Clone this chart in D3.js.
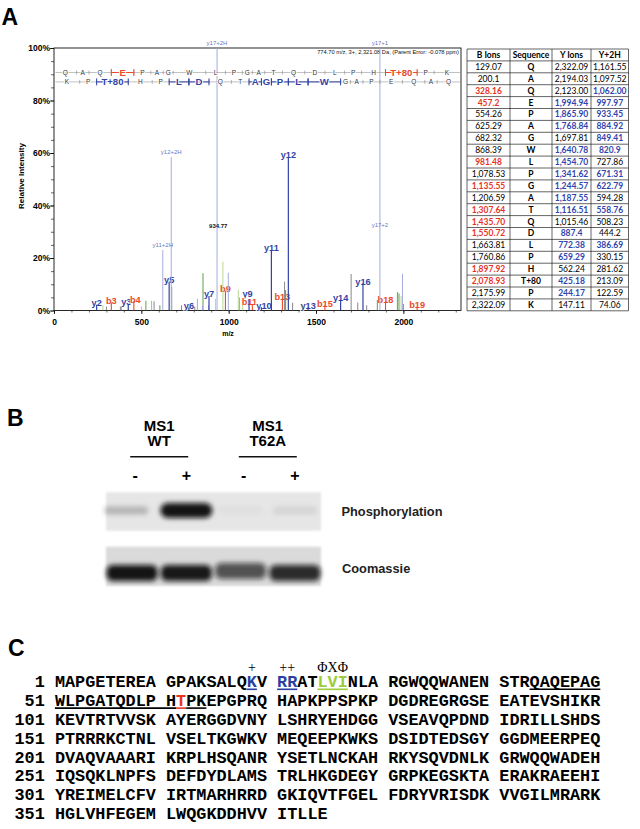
<!DOCTYPE html>
<html><head><meta charset="utf-8">
<script src="https://cdn.jsdelivr.net/npm/d3@7"></script>
<style>body{margin:0;background:#fff}</style>
</head><body>
<svg id="fig" width="640" height="829" xmlns="http://www.w3.org/2000/svg"></svg>
<script>
// ---------------- DATA ----------------
// Panel A: peptide & fragment table
const sequence = ["Q","A","Q","E","P","A","G","W","L","P","G","A","T","Q","D","L","P","H","T+80","P","K"];
const bIonText = ["129.07","200.1","328.16","457.2","554.26","625.29","682.32","868.39","981.48","1,078.53","1,135.55","1,206.59","1,307.64","1,435.70","1,550.72","1,663.81","1,760.86","1,897.92","2,078.93","2,175.99","2,322.09"];
const yIonText = ["2,322.09","2,194.03","2,123.00","1,994.94","1,865.90","1,768.84","1,697.81","1,640.78","1,454.70","1,341.62","1,244.57","1,187.55","1,116.51","1,015.46","887.4","772.38","659.29","562.24","425.18","244.17","147.11"];
const y2HText = ["1,161.55","1,097.52","1,062.00","997.97","933.45","884.92","849.41","820.9","727.86","671.31","622.79","594.28","558.76","508.23","444.2","386.69","330.15","281.62","213.09","122.59","74.06"];
const bHit   = [0,0,1,1,0,0,0,0,1,0,1,0,1,1,1,0,0,1,1,0,0];
const yHit   = [0,0,0,1,1,1,0,1,1,1,1,1,1,0,1,1,1,0,1,1,0];
const y2HHit = [0,0,1,1,1,1,1,1,0,1,1,0,1,0,0,1,0,0,0,0,0];
const tableHeaders = ["B Ions","Sequence","Y Ions","Y+2H"];
// highlighted residues in the annotation rows (b-row index, y-row index in reversed order)
const bRowHits = [3, 18];
const yRowHits = [2, 5, 6, 9, 10, 11, 12, 13];

// Panel A: spectrum peaks (m/z, relative intensity %)
const yPeakLabels = ["y2","y3","y5","y6","y7","y9","y10","y11","y12","y13","y14","y16"];
const yPeakMz     = [244.17,425.18,659.29,772.38,887.4,1116.51,1187.55,1244.57,1341.62,1454.70,1640.78,1768.84];
const yPeakInt    = [2.2,2.5,11,1.2,5.5,4.2,1.2,23,58.5,1.2,4,10.4];
const bPeakLabels = ["b3","b4","b9","b11","b13","b15","b18","b19"];
const bPeakMz     = [328.16,457.2,981.48,1135.55,1307.64,1550.72,1897.92,2078.93];
const bPeakInt    = [3,3.5,7.5,2.5,4.5,2,3.5,1.5];
const lightMz     = [386.69,558.76,622.79,671.31,820.9,849.41,884.92,933.45,997.97,1062.00,1865.90,1994.94];
const lightInt    = [1.5,3.7,23,58.4,4.5,2,2,100,14.4,5,100,14];
const lightLabel  = ["","","y11+2H","y12+2H","","","","y17+2H","","","y17+1",""];
const darkGreenMz  = [526,606,853,1326,1851,1975];
const darkGreenInt = [3.7,2,14.2,7.8,4,6.5];
const lightGreenMz  = [280,501,925,967,1055,1080,1987];
const lightGreenInt = [2,1.5,4.4,18.6,8,2,5.5];
const grayMz  = [300,380,573,674,730,806,1320,1366,1423,1701,1739,1790,1966,2000];
const grayInt = [1.5,1.5,3.5,9,2,1.5,11,3,2,13.9,3,2,7,2.5];
const midLabels = ["934.77","y17+2"];
const midLabelMz = [934.77,1865.90];
const midLabelInt = [32.2,32.5];
const yTicks = [0,20,40,60,80,100];
const xTicks = [0,500,1000,1500,2000];
const headerInfo = "774.70 m/z, 3+, 2,321.08 Da,  (Parent Error: -0.078 ppm)";

// Panel B: western blot
const lanes = ["WT -","WT +","T62A -","T62A +"];
const laneSigns = ["-","+","-","+"];
const groups = [["MS1","WT"],["MS1","T62A"]];
const phosphoLevel = [0.22,0.97,0.03,0.08];
const coomassieLevel = [0.97,0.95,0.68,0.86];

// Panel C: protein sequence
const proteinLines = [
 "MAPGETEREAGPAKSALQKVRRATLVINLARGWQQWANENSTRQAQEPAG",
 "WLPGATQDLPHTPKEPGPRQHAPKPPSPKPDGDREGRGSEEATEVSHIKR",
 "KEVTRTVVSKAYERGGDVNYLSHRYEHDGGVSEAVQPDNDIDRILLSHDS",
 "PTRRRKCTNLVSELTKGWKVMEQEEPKWKSDSIDTEDSGYGGDMEERPEQ",
 "DVAQVAAARIKRPLHSQANRYSETLNCKAHRKYSQVDNLKGRWQQWADEH",
 "IQSQKLNPFSDEFDYDLAMSTRLHKGDEGYGRPKEGSKTAERAKRAEEHI",
 "YREIMELCFVIRTMARHRRDGKIQVTFGELFDRYVRISDKVVGILMRARK",
 "HGLVHFEGEMLWQGKDDHVVITLLE"];
const residueColors = {19:"blue",21:"blue",22:"blue",25:"green",26:"green",27:"green",62:"red"};
const underlines = [[19,19,"blue"],[21,22,"blue"],[25,27,"green"],[44,50,"black"],[51,61,"black"],[62,62,"red"],[63,64,"black"]];
const motifMarks = [["+",19,19],["++",21,22],["\u03A6X\u03A6",25,27]];

// ---------------- DRAWING ----------------
const svg = d3.select("#fig");
const SANS = "'Liberation Sans', Arial, Helvetica, sans-serif";
const MONO = "'Liberation Mono', 'Courier New', monospace";
const SERIF = "'Liberation Serif', 'Times New Roman', serif";
const C = {y:"#3243a6", b:"#ea4a2a", light:"#a3addf", lightTxt:"#6a78c6", green:"#5f9f45", lgreen:"#b8d88f", gray:"#7a7a7a",
  red:"#e8331f", blue:"#2f45ad", seqBlue:"#2b3fa0", seqGreen:"#9dcb3a", seqRed:"#e8331f"};
const num = s => +s.replace(/,/g,"");

// panel letters
[["A",1.5,25],["B",7,426],["C",8,655.5]].forEach(([t,px,py])=>{
  svg.append("text").attr("x",px).attr("y",py).text(t)
    .attr("font-family",SANS).attr("font-weight","bold").attr("font-size",23);
});

// ---- spectrum ----
const x = d3.scaleLinear().domain([0,2330]).range([54,461]);
const y = d3.scaleLinear().domain([0,100]).range([310.5,48]);
const sp = svg.append("g");
svg.append("defs").append("clipPath").attr("id","plotclip").append("rect")
  .attr("x",54).attr("y",48).attr("width",407).attr("height",262.5);

// axes
const yMinor = d3.axisLeft(y).tickValues(d3.range(0,101,5)).tickSize(3).tickFormat("");
sp.append("g").attr("transform","translate(54,0)").call(yMinor)
  .call(g=>g.select(".domain").remove()).call(g=>g.selectAll("line").attr("stroke","#000").attr("stroke-width",0.6));
const yMajor = d3.axisLeft(y).tickValues(yTicks).tickSize(4).tickPadding(0).tickFormat(d=>d+"%");
sp.append("g").attr("transform","translate(54,0)").call(yMajor)
  .call(g=>g.select(".domain").remove())
  .call(g=>g.selectAll("line").attr("stroke","#000").attr("stroke-width",0.8))
  .call(g=>g.selectAll("text").attr("font-family",SANS).attr("font-weight","bold").attr("font-size",8.5).attr("fill","#000"));
const xMinor = d3.axisBottom(x).tickValues(d3.range(0,2301,100)).tickSize(2).tickFormat("");
sp.append("g").attr("transform","translate(0,310.5)").call(xMinor)
  .call(g=>g.select(".domain").remove()).call(g=>g.selectAll("line").attr("stroke","#000").attr("stroke-width",0.6));
const xMajor = d3.axisBottom(x).tickValues(xTicks).tickSize(3.5).tickPadding(4.5).tickFormat(d3.format("d"));
sp.append("g").attr("transform","translate(0,310.5)").call(xMajor)
  .call(g=>g.select(".domain").remove())
  .call(g=>g.selectAll("line").attr("stroke","#000").attr("stroke-width",0.8))
  .call(g=>g.selectAll("text").attr("font-family",SANS).attr("font-weight","bold").attr("font-size",8.5).attr("fill","#000"));
sp.append("text").attr("x",228).attr("y",336).attr("text-anchor","middle").text("m/z")
  .attr("font-family",SANS).attr("font-weight","bold").attr("font-size",7);
sp.append("text").attr("transform","translate(23.5,176) rotate(-90)").attr("text-anchor","middle").text("Relative Intensity")
  .attr("font-family",SANS).attr("font-weight","bold").attr("font-size",8);

// frame
sp.append("rect").attr("x",54).attr("y",48).attr("width",407).attr("height",262.5)
  .attr("fill","none").attr("stroke","#111").attr("stroke-width",0.9);

sp.append("text").attr("x",459).attr("y",54).attr("text-anchor","end").text(headerInfo)
  .attr("font-family",SANS).attr("font-size",5.7).attr("fill","#111");

// peak labels (drawn before lines, in m/z order, with white halo); small nudges keep crowded labels readable
const nudgeX = {y3:-2, b4:1.5, b11:-3, y10:2.5, y9:-1.5};
const nudgeY = {y9:-4};
const labelled = d3.zip(yPeakLabels,yPeakMz,yPeakInt).map(d=>({t:d[0],mz:d[1],i:d[2],c:C.y}))
  .concat(d3.zip(bPeakLabels,bPeakMz,bPeakInt).map(d=>({t:d[0],mz:d[1],i:d[2],c:C.b})))
  .sort((a,b)=>a.mz-b.mz);
sp.append("g").selectAll("text").data(labelled).join("text")
  .attr("x",d=>x(d.mz)+(nudgeX[d.t]||0)).attr("y",d=>Math.min(y(d.i)-2,305.5)+(nudgeY[d.t]||0)).attr("dy","0.36em")
  .attr("text-anchor","middle").text(d=>d.t)
  .attr("font-family",SANS).attr("font-weight","bold").attr("font-size",9.2).attr("fill",d=>d.c)
  .attr("stroke","#fff").attr("stroke-width",1.6).attr("paint-order","stroke");

// peak lines
const pk = sp.append("g").attr("clip-path","url(#plotclip)");
function peaks(mz,inten,color,w){
  pk.append("g").selectAll("line").data(d3.zip(mz,inten)).join("line")
    .attr("x1",d=>x(d[0])).attr("x2",d=>x(d[0])).attr("y1",y(0)).attr("y2",d=>y(d[1]))
    .attr("stroke",color).attr("stroke-width",w);
}
peaks(grayMz,grayInt,C.gray,0.9);
peaks(lightGreenMz,lightGreenInt,C.lgreen,1);
peaks(darkGreenMz,darkGreenInt,C.green,1);
peaks(lightMz,lightInt,C.light,1);
peaks(bPeakMz,bPeakInt,C.b,1.1);
peaks(yPeakMz,yPeakInt,C.y,1.2);

// light peak labels
d3.zip(lightLabel,lightMz,lightInt).filter(d=>d[0]).forEach(([t,mz,i])=>{
  const top = i>=100 ? 44.5 : y(i)-3;
  sp.append("text").attr("x",x(mz)).attr("y",top).attr("text-anchor","middle").text(t)
    .attr("font-family",SANS).attr("font-size",6).attr("fill",C.lightTxt);
});
d3.zip(midLabels,midLabelMz,midLabelInt).forEach(([t,mz,i],k)=>{
  sp.append("text").attr("x",x(mz)+(k===0?1:0)).attr("y",y(i)+2).attr("text-anchor","middle").text(t)
    .attr("font-family",SANS).attr("font-size",6).attr("font-weight",k===0?"bold":"normal")
    .attr("fill",k===0?"#111":C.lightTxt);
});

// annotation rows
function annoRow(seq, bounds, hits, rowY, color){
  const g = sp.append("g");
  g.append("line").attr("x1",55.5).attr("x2",460).attr("y1",rowY).attr("y2",rowY).attr("stroke","#999").attr("stroke-width",0.6);
  bounds.slice(1,-1).forEach(b=>{
    g.append("line").attr("x1",x(b)).attr("x2",x(b)).attr("y1",rowY-2).attr("y2",rowY+2).attr("stroke","#888").attr("stroke-width",0.6);
  });
  seq.forEach((s,i)=>{
    const hit = hits.includes(i);
    const xa = x(bounds[i]), xb = x(bounds[i+1]), xm = (xa+xb)/2;
    if(hit){
      g.append("line").attr("x1",xa).attr("x2",xb).attr("y1",rowY).attr("y2",rowY).attr("stroke",color).attr("stroke-width",1);
      [xa,xb].forEach(xx=>g.append("line").attr("x1",xx).attr("x2",xx).attr("y1",rowY-3.5).attr("y2",rowY+3.5).attr("stroke",color).attr("stroke-width",1));
    }
    g.append("text").attr("x",xm).attr("y",rowY).attr("dy","0.36em").attr("text-anchor","middle").text(s)
      .attr("font-family",SANS).attr("font-size",hit?9.6:6.5).attr("font-weight",hit?"bold":"normal")
      .attr("fill",hit?color:"#333").attr("stroke","#fff").attr("stroke-width",hit?2:1.8).attr("paint-order","stroke");
  });
}
const bVals = bIonText.map(num);
const yValsAsc = yIonText.map(num).reverse();
annoRow(sequence, [0].concat(bVals), bRowHits, 72.5, C.b);
annoRow(sequence.slice().reverse(), [0].concat(yValsAsc), yRowHits, 81.9, C.y);

// ---- table ----
const colX = [467,510,552,591,628.5];
const rowH = 11.9, t0 = 49;
const tb = svg.append("g");
const nRows = bIonText.length + 1;
const TFONT = "Lato, 'Open Sans', sans-serif";
for(let r=0;r<=nRows;r++){
  tb.append("line").attr("x1",colX[0]).attr("x2",colX[4]).attr("y1",t0+r*rowH).attr("y2",t0+r*rowH).attr("stroke","#222").attr("stroke-width",0.7);
}
colX.forEach(cx=>tb.append("line").attr("x1",cx).attr("x2",cx).attr("y1",t0).attr("y2",t0+nRows*rowH).attr("stroke","#222").attr("stroke-width",0.7));
function cell(txt,col,row,fill,bold){
  tb.append("text").attr("x",(colX[col]+colX[col+1])/2).attr("y",t0+row*rowH+rowH/2).attr("dy","0.35em")
    .attr("text-anchor","middle").text(txt).attr("font-family",TFONT).attr("font-size",8.5)
    .attr("font-weight",bold?"bold":"normal").attr("fill",fill);
}
tableHeaders.forEach((h,i)=>cell(h,i,0,"#000",true));
bIonText.forEach((v,i)=>{
  cell(v,0,i+1,bHit[i]?C.red:"#000",!!bHit[i]);
  cell(sequence[i],1,i+1,"#000",true);
  cell(yIonText[i],2,i+1,yHit[i]?C.blue:"#000",!!yHit[i]);
  cell(y2HText[i],3,i+1,y2HHit[i]?C.blue:"#000",!!y2HHit[i]);
});

// ---- panel B: blot ----
const defs = svg.select("defs");
defs.append("filter").attr("id","blur").attr("x","-50%").attr("y","-100%").attr("width","200%").attr("height","300%")
  .append("feGaussianBlur").attr("stdDeviation",2.4);
defs.append("filter").attr("id","blur2").attr("x","-10%").attr("y","-10%").attr("width","120%").attr("height","120%")
  .append("feGaussianBlur").attr("stdDeviation",0.8);
const lane = d3.scaleBand().domain(lanes).range([106,321]).paddingInner(0.04);
const lc = d => lane(d)+lane.bandwidth()/2;
const bl = svg.append("g");
groups.forEach((gr,k)=>{
  const l1 = lanes[k*2], l2 = lanes[k*2+1];
  const cx = (lc(l1)+lc(l2))/2;
  bl.append("text").attr("x",cx).attr("y",430.5).attr("text-anchor","middle").text(gr[0])
    .attr("font-family",SANS).attr("font-weight","bold").attr("font-size",15);
  bl.append("text").attr("x",cx).attr("y",446).attr("text-anchor","middle").text(gr[1])
    .attr("font-family",SANS).attr("font-weight","bold").attr("font-size",15);
  bl.append("line").attr("x1",cx-29).attr("x2",cx+29).attr("y1",456.7).attr("y2",456.7).attr("stroke","#111").attr("stroke-width",1.4);
});
lanes.forEach((l,i)=>{
  bl.append("text").attr("x",lc(l)+(i%2?0:3)).attr("y",475).attr("dy","0.36em").attr("text-anchor","middle").text(laneSigns[i])
    .attr("font-family",SANS).attr("font-weight","bold").attr("font-size",16);
});
// blot backgrounds
bl.append("rect").attr("x",106).attr("y",492.3).attr("width",215).attr("height",38.4).attr("fill","#e6e6e6").attr("filter","url(#blur2)");
bl.append("rect").attr("x",106).attr("y",546.7).attr("width",215).attr("height",39.3).attr("fill","#dadada").attr("filter","url(#blur2)");
const bandP = bl.append("g").attr("filter","url(#blur)");
lanes.forEach((l,i)=>{
  const v = phosphoLevel[i];
  const w = v>0.5 ? 52 : 44;
  const h = v>0.5 ? 15 : 8;
  bandP.append("rect").attr("x",lc(l)-w/2+(i===0?-6:0)).attr("y",510.5-h/2).attr("width",w).attr("height",h)
    .attr("rx",h/2).attr("fill","#111").attr("fill-opacity",v);
});
const bandC = bl.append("g").attr("filter","url(#blur)");
lanes.forEach((l,i)=>{
  const v = coomassieLevel[i];
  bandC.append("rect").attr("x",lc(l)-25.5).attr("y",i===2?563:565).attr("width",51).attr("height",16)
    .attr("rx",6).attr("fill","#0d0d0d").attr("fill-opacity",v);
});
bl.append("text").attr("x",341.5).attr("y",515.5).text("Phosphorylation")
  .attr("font-family",SANS).attr("font-weight","bold").attr("font-size",12.8).attr("fill","#222");
bl.append("text").attr("x",342).attr("y",572.5).text("Coomassie")
  .attr("font-family",SANS).attr("font-weight","bold").attr("font-size",12.8).attr("fill","#222");

// ---- panel C: sequence ----
const cw = 10.1, sx0 = 14.5, line0 = 682.5, lineStep = 18.8, fsz = cw/0.6;
const colorMap = {blue:C.seqBlue, green:C.seqGreen, red:C.seqRed, black:"#000"};
const colOf = p => { const idx=(p-1)%50; return 4+idx+Math.floor(idx/10); };
const lineOf = p => Math.floor((p-1)/50);
const xOf = p => sx0 + colOf(p)*cw;
const baseY = k => line0 + k*lineStep + 4.8;
const sq = svg.append("g").attr("font-family",MONO).attr("font-weight","bold").attr("font-size",fsz);
proteinLines.forEach((ln,k)=>{
  sq.append("text").attr("x",sx0+3*cw).attr("y",baseY(k)).attr("text-anchor","end").text(String(k*50+1));
  const t = sq.append("text").attr("y",baseY(k));
  for(let g0=0; g0<ln.length; g0+=10){
    const grp = ln.slice(g0,g0+10);
    let runs=[];
    for(let j=0;j<grp.length;j++){
      const p = k*50+g0+j+1;
      const c = residueColors[p] ? colorMap[residueColors[p]] : "#000";
      if(runs.length && runs[runs.length-1].c===c) runs[runs.length-1].s+=grp[j];
      else runs.push({c, s:grp[j]});
    }
    runs.forEach((r,ri)=>{
      const ts = t.append("tspan").text(r.s).attr("fill",r.c);
      if(ri===0) ts.attr("x", sx0 + (4+g0+g0/10)*cw);
    });
  }
});
underlines.forEach(([a,b,c])=>{
  const k = lineOf(a);
  sq.append("line").attr("x1",xOf(a)).attr("x2",xOf(b)+cw).attr("y1",baseY(k)+2).attr("y2",baseY(k)+2)
    .attr("stroke",colorMap[c]).attr("stroke-width",1.6);
});
motifMarks.forEach(([t,a,b])=>{
  svg.append("text").attr("x",(xOf(a)+xOf(b)+cw)/2).attr("y",671.5).attr("text-anchor","middle").text(t)
    .attr("font-family",SERIF).attr("font-size",14).attr("fill","#000");
});
</script>
</body></html>
